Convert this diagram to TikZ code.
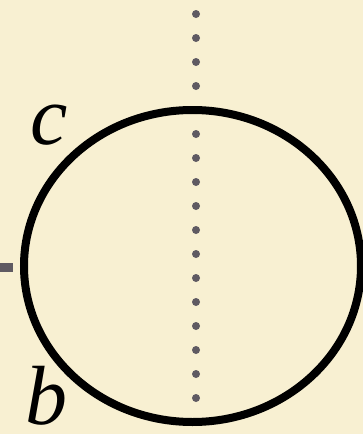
\documentclass[tikz,border=0pt]{standalone}
\usepackage{fontspec}
\setmainfont{Liberation Serif}
\definecolor{paper}{RGB}{248,240,210}
\definecolor{dotgray}{RGB}{95,90,98}
\begin{document}
\begin{tikzpicture}[x=1pt,y=-1pt,
  lbl/.style={font=\fontsize{84}{84}\selectfont\itshape, inner sep=0pt},
  dotmark/.style={circle, fill=dotgray, inner sep=0pt, minimum size=8pt}]
\fill[paper] (0,0) rectangle (363,434);
\useasboundingbox (0,0) rectangle (363,434);
\foreach \i in {0,...,17} {
  \node[dotmark] (d\i) at (196,14+24*\i) {};
}
\draw[line width=8pt] (192.5,266) ellipse [x radius=168.5, y radius=156];
\coordinate (dashL) at (0,267.5);
\coordinate (dashR) at (13,267.5);
\draw[dotgray, line width=9pt] (dashL) -- (dashR);
\node[lbl] (c) at (49,125) {c};
\node[lbl] (b) at (46,396) {b};
\end{tikzpicture}
\end{document}
